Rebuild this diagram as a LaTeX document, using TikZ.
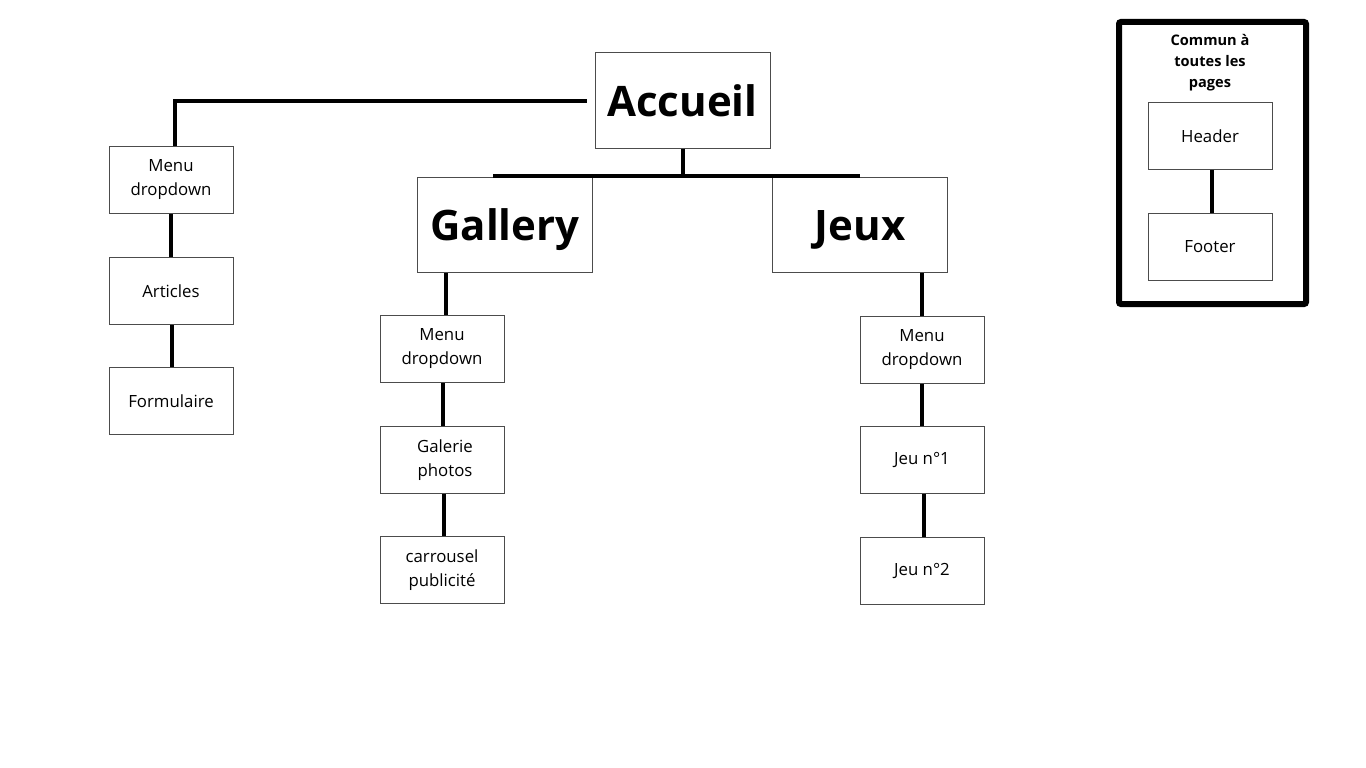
\documentclass[tikz,border=0pt]{standalone}
\usepackage{fontspec}
\setmainfont{Open Sans}
\usetikzlibrary{positioning,calc}

\begin{document}
\begin{tikzpicture}[
    x=1pt, y=-1pt,
    pagebox/.style={rectangle, draw=black!70, line width=1pt, inner sep=0pt, minimum width=175pt, minimum height=95pt, font=\fontsize{42}{50}\selectfont\bfseries},
    subbox/.style={rectangle, draw=black!70, line width=1pt, inner sep=0pt, minimum width=124pt, minimum height=67pt, align=center, font=\fontsize{16.8}{24}\selectfont},
    link/.style={line width=4pt, black}
]
    \useasboundingbox (0,0) rectangle (1366,768);

    % Main pages
    \node[pagebox] (accueil) at (682.5, 100.5) {Accueil};
    \node[pagebox] (gallery) at (505, 225) {\raisebox{-5pt}[\height][\depth]{Gallery}};
    \node[pagebox] (jeux) at (860, 225) {\raisebox{-5pt}[\height][\depth]{Jeux}};

    % Left column
    \node[subbox] (menuL) at (171, 180) {Menu\\dropdown};
    \node[subbox] (articles) at (171, 291) {Articles};
    \node[subbox] (formulaire) at (171, 401) {Formulaire};

    % Gallery column
    \node[subbox] (gmenu) at (442, 349) {Menu\\dropdown};
    \node[subbox] (galerie) at (442, 460) {\hspace*{6pt}Galerie\\\hspace*{6pt}photos};
    \node[subbox] (carrousel) at (442, 570) {carrousel\\publicité};

    % Jeux column
    \node[subbox] (jmenu) at (922, 349.5) {Menu\\dropdown};
    \node[subbox] (jeu1) at (922, 460) {Jeu n°1};
    \node[subbox] (jeu2) at (922, 570.5) {Jeu n°2};

    % Common to all pages
    \draw[line width=6pt, rounded corners=2pt] (1119,22) rectangle (1306,304);
    \node[align=center, font=\fontsize{14.6}{21}\selectfont\bfseries] (commun) at (1210, 63) {Commun à\\toutes les\\pages};
    \node[subbox] (header) at (1210, 136) {Header};
    \node[subbox] (footer) at (1210, 247) {Footer};

    % Connectors
    \coordinate (barL) at (493, 176);
    \coordinate (barR) at (860, 176);
    \draw[link] ([xshift=-8]accueil.west) -| ([xshift=4]menuL.north);
    \draw[link] (accueil.south) -- (accueil.south |- barL);
    \draw[link] (barL) -- (barR);
    \draw[link] (menuL.south) -- (articles.north);
    \draw[link] ([xshift=1]articles.south) -- ([xshift=1]formulaire.north);
    \draw[link] ([xshift=4]gmenu.north |- gallery.south) -- ([xshift=4]gmenu.north);
    \draw[link] ([xshift=1]gmenu.south) -- ([xshift=1]galerie.north);
    \draw[link] ([xshift=2]galerie.south) -- ([xshift=2]carrousel.north);
    \draw[link] (jmenu.north |- jeux.south) -- (jmenu.north);
    \draw[link] (jmenu.south) -- (jeu1.north);
    \draw[link] ([xshift=2]jeu1.south) -- ([xshift=2]jeu2.north);
    \draw[link] ([xshift=2]header.south) -- ([xshift=2]footer.north);
\end{tikzpicture}
\end{document}
